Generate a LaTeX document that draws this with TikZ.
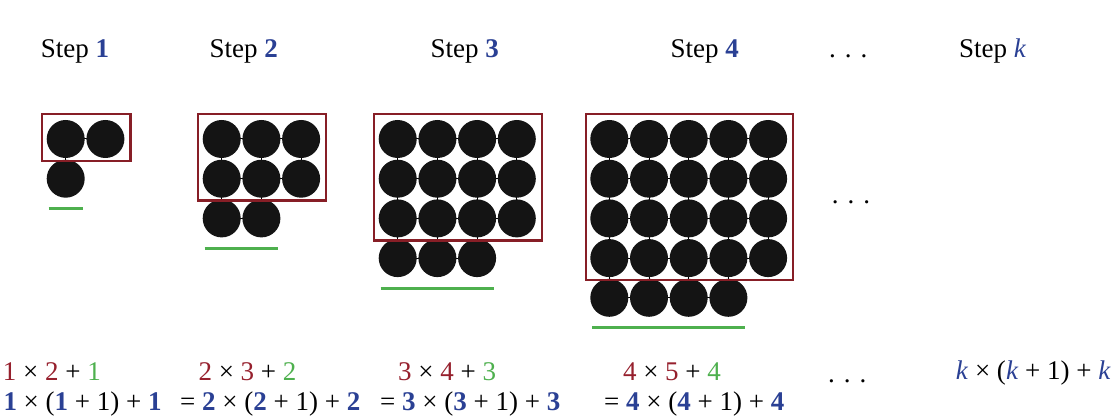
\documentclass[tikz,border=0pt]{standalone}
\usepackage{fontspec}
\setmainfont{Liberation Serif}
\usepackage{xcolor}
\usetikzlibrary{positioning}
\definecolor{boxred}{RGB}{135,30,38}
\definecolor{numred}{RGB}{150,32,45}
\definecolor{numblue}{RGB}{42,64,148}
\definecolor{numgreen}{RGB}{78,176,78}
\newcommand{\bluenum}[1]{\textcolor{numblue}{\textbf{#1}}}
\newcommand{\rednum}[1]{\textcolor{numred}{#1}}
\newcommand{\grnnum}[1]{\textcolor{numgreen}{#1}}
\newcommand{\bluek}{\textcolor{numblue}{\textit{k}}}

\begin{document}
\begin{tikzpicture}[x=1pt, y=-1pt, font=\fontsize{27}{32}\selectfont,
    lbl/.style={anchor=base west, inner sep=0pt},
    frame/.style={draw=boxred, line width=2.4pt},
    under/.style={draw=numgreen, line width=3pt, line cap=butt}]
    \useasboundingbox (0,0) rectangle (1113,419);

    % labels on top
    \node (step1) [lbl] at (40.7,57.7) {Step \bluenum{1}};
    \node (step2) [lbl] at (209.3,57.7) {Step \bluenum{2}};
    \node (step3) [lbl] at (430.4,57.7) {Step \bluenum{3}};
    \node (step4) [lbl] at (670.4,57.7) {Step \bluenum{4}};
    \node (topdots) [lbl] at (829,57.7) {.\,\,.\,\,.};
    \node (stepk) [lbl] at (959,57.7) {Step \bluek};

    % dots: n+1 columns, n rows in the box, n more below
    \foreach \n/\xo in {1/65.7, 2/221.7, 3/397.7, 4/609.3} {
        \pgfmathsetmacro{\xr}{\xo+\n*39.7}
        \pgfmathsetmacro{\xl}{\xo+(\n-1)*39.7}
        \pgfmathsetmacro{\yb}{139+(\n-1)*39.7}
        \pgfmathsetmacro{\yl}{139+\n*39.7}
        \foreach \j in {1,...,\n}
            \draw [line width=1pt] (\xo,{139+(\j-1)*39.7}) -- (\xr,{139+(\j-1)*39.7});
        \draw [line width=1pt] (\xo,\yl) -- (\xl,\yl);
        \foreach \i in {1,...,\n}
            \draw [line width=1pt] ({\xo+(\i-1)*39.7},139) -- ({\xo+(\i-1)*39.7},\yl);
        \draw [line width=1pt] (\xr,139) -- (\xr,\yb);
        \foreach \i in {0,...,\n}
            \foreach \j in {1,...,\n}
                \fill [black!92] ({\xo+\i*39.7},{139+(\j-1)*39.7}) circle [radius=19pt];
        \foreach \i in {1,...,\n}
            \fill [black!92] ({\xo+(\i-1)*39.7},\yl) circle [radius=19pt];
        \draw [frame] ({\xo-23.5},114) rectangle ({\xr+25},{\yb+22});
        \draw [under] ({\xo-17},{\yl+30}) -- ({\xl+17},{\yl+30});
    }
    \node (middots) [lbl] at (831.7,204) {.\,\,.\,\,.};

    % sums below
    \node (sum1) [lbl] at (2.7,380) {\rednum{1} × \rednum{2} + \grnnum{1}};
    \node (eq1) [lbl] at (3.3,410) {\bluenum{1} × (\bluenum{1} + 1) + \bluenum{1}};
    \node (sum2) [lbl] at (198.3,380) {\rednum{2} × \rednum{3} + \grnnum{2}};
    \node (eq2) [lbl] at (180,410) {= \bluenum{2} × (\bluenum{2} + 1) + \bluenum{2}};
    \node (sum3) [lbl] at (398,380) {\rednum{3} × \rednum{4} + \grnnum{3}};
    \node (eq3) [lbl] at (380,410) {= \bluenum{3} × (\bluenum{3} + 1) + \bluenum{3}};
    \node (sum4) [lbl] at (622.8,380) {\rednum{4} × \rednum{5} + \grnnum{4}};
    \node (eq4) [lbl] at (604,410) {= \bluenum{4} × (\bluenum{4} + 1) + \bluenum{4}};
    \node (botdots) [lbl] at (828,382) {.\,\,.\,\,.};
    \node (sumk) [lbl] at (955.7,379.3) {\bluek{} × (\bluek{} + 1) + \bluek};
\end{tikzpicture}
\end{document}
